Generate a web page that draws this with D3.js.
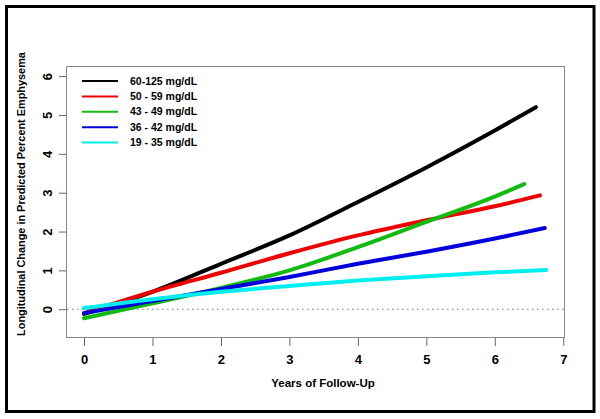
<!DOCTYPE html>
<html><head><meta charset="utf-8">
<script src="https://cdn.jsdelivr.net/npm/d3@7"></script>
<style>body{margin:0;background:#fff}svg{display:block}text{font-family:"Liberation Sans",Arial,sans-serif;font-weight:bold}</style>
</head><body>
<script>
const seriesNames = ["60-125 mg/dL","50 - 59 mg/dL","43 - 49 mg/dL","36 - 42 mg/dL","19 - 35 mg/dL"];
const seriesColors = ["#000000","#ee0000","#11bb11","#0000dd","#00eeee"];
const xBlack = [0,1,2,3,4,5,6,6.6];
const yBlack = [-0.12,0.45,1.17,1.9,2.76,3.65,4.6,5.2];
const xRed = [0,1,2,3,4,5,6,6.66];
const yRed = [-0.1,0.45,0.94,1.44,1.9,2.29,2.65,2.93];
const xGreen = [0,1,2,3,4,5,6,6.43];
const yGreen = [-0.23,0.15,0.55,1.0,1.6,2.25,2.9,3.22];
const xBlue = [0,1,2,3,4,5,6,6.73];
const yBlue = [-0.1,0.21,0.52,0.83,1.17,1.48,1.82,2.09];
const xCyan = [0,1,2,3,4,5,6,6.75];
const yCyan = [0.03,0.26,0.45,0.6,0.74,0.85,0.95,1.01];
const xTicks = [0,1,2,3,4,5,6,7];
const yTicks = [0,1,2,3,4,5,6];

const xs = [xBlack,xRed,xGreen,xBlue,xCyan];
const ys = [yBlack,yRed,yGreen,yBlue,yCyan];

const W=600,H=419;
const svg=d3.select("body").append("svg").attr("width",W).attr("height",H);
svg.append("rect").attr("x",6.5).attr("y",6.5).attr("width",587.5).attr("height",405).attr("fill","none").attr("stroke","#000").attr("stroke-width",3);

const L=66,T=66,R=565,B=338;
const x=d3.scaleLinear().domain([-0.263,7.025]).range([L,R]);
const y=d3.scaleLinear().domain([-0.74,6.26]).range([B,T]);

svg.append("rect").attr("x",L+0.5).attr("y",T+0.5).attr("width",R-L-1).attr("height",B-T-1).attr("fill","none").attr("stroke","#888").attr("stroke-width",1);

// zero line
svg.append("line").attr("x1",L+1).attr("x2",R-1).attr("y1",y(0)).attr("y2",y(0)).attr("stroke","#777").attr("stroke-dasharray","1.5,3.5").attr("stroke-width",1);

// x axis
const xa=svg.append("g").attr("transform",`translate(0,${B})`).call(d3.axisBottom(x).tickValues(xTicks).tickSize(8).tickPadding(9).tickFormat(d3.format("d")));
xa.select(".domain").remove();
xa.selectAll("line").attr("stroke","#666");
xa.selectAll("text").style("font-size","13px").attr("fill","#000").style("font-family","Liberation Sans, Arial").style("font-weight","bold");

// y axis
const ya=svg.append("g").attr("transform",`translate(${L},0)`).call(d3.axisLeft(y).tickValues(yTicks).tickSize(7).tickPadding(0).tickFormat(d3.format("d")));
ya.select(".domain").remove();
ya.selectAll("line").attr("stroke","#666");
ya.selectAll("text").remove();
ya.selectAll(".tick").append("text").attr("transform","translate(-19,0) rotate(-90)").attr("text-anchor","middle").attr("dy","0.36em").attr("fill","#000").style("font-size","13px").text(d=>d);

// series
const line=d3.line().x(d=>x(d[0])).y(d=>y(d[1])).curve(d3.curveMonotoneX);
xs.forEach((xv,i)=>{
  const pts=xv.map((v,j)=>[v,ys[i][j]]);
  svg.append("path").attr("d",line(pts)).attr("fill","none").attr("stroke",seriesColors[i]).attr("stroke-width",4).attr("stroke-linecap","round");
});

// legend
seriesNames.forEach((n,i)=>{
  const ly=81+i*15.4;
  svg.append("line").attr("x1",82).attr("x2",118).attr("y1",ly).attr("y2",ly).attr("stroke",seriesColors[i]).attr("stroke-width",2);
  svg.append("text").attr("x",130).attr("y",ly).attr("dy","0.35em").style("font-size","10.5px").text(n);
});

svg.append("text").attr("x",323).attr("y",387).attr("text-anchor","middle").style("font-size","11.5px").text("Years of Follow-Up");
svg.append("text").attr("transform","translate(25,194) rotate(-90)").attr("text-anchor","middle").style("font-size","10.9px").text("Longitudinal Change in Predicted Percent Emphysema");
</script>
</body></html>
